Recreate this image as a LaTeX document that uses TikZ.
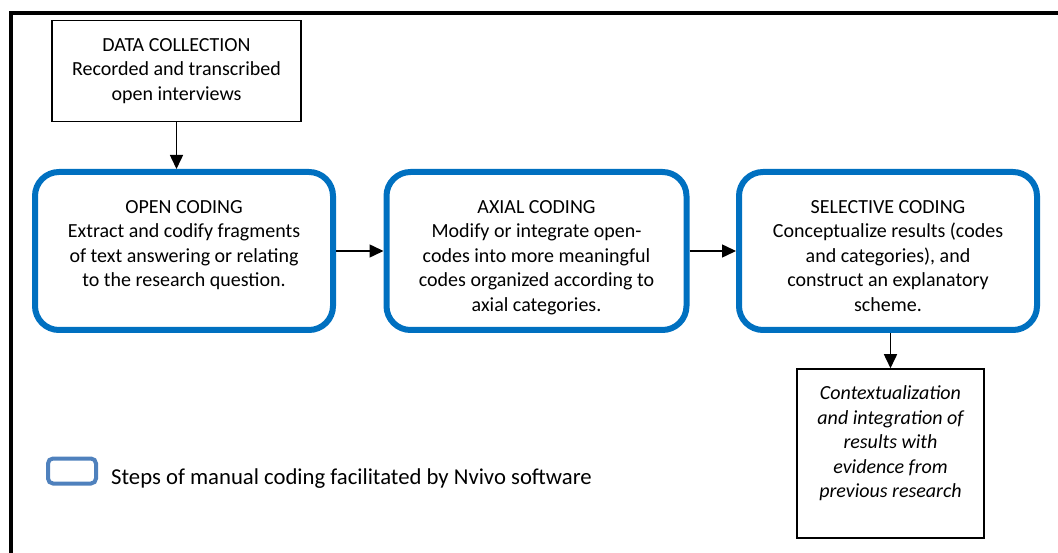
\documentclass[tikz,border=0pt]{standalone}
\usepackage{fontspec}
\setmainfont{Carlito}
\usepackage{tikz}
\usetikzlibrary{arrows.meta}
\definecolor{nvblue}{RGB}{0,112,192}
\definecolor{legendblue}{RGB}{79,129,189}

\tikzset{
  codingbox/.style={draw=nvblue, line width=6pt, rounded corners=24pt, inner sep=0pt},
  plainbox/.style={draw, line width=1.5pt, inner sep=0pt},
  flow/.style={-{Triangle[length=14pt,width=13pt]}, line width=1.5pt}
}

\begin{document}
\begin{tikzpicture}[x=1pt, y=-1pt, font=\fontsize{20}{24.5}\selectfont]
\useasboundingbox (0,0) rectangle (1058,553);

% outer frame
\draw[line width=3.5pt] (11,553) -- (11,13) -- (1058,13);

\draw (176.5, 71) node[plainbox, minimum width=249pt, minimum height=101pt,
  align=center] (data) {DATA COLLECTION\\Recorded and transcribed\\open interviews};

\draw (184, 251) node[codingbox] (open) {
\begin{minipage}[t][158pt]{298pt}
\vspace*{28.5pt}\centering
OPEN CODING\\
Extract and codify fragments\\
of text answering or relating\\
to the research question.
\end{minipage}
};
\draw (536.5, 251) node[codingbox] (axial) {
\begin{minipage}[t][158pt]{300pt}
\vspace*{28.5pt}\centering
AXIAL CODING\\
Modify or integrate open-\\
codes into more meaningful\\
codes organized according to\\
axial categories.
\end{minipage}
};
\draw (888, 251) node[codingbox] (select) {
\begin{minipage}[t][158pt]{298pt}
\vspace*{28.5pt}\centering
SELECTIVE CODING\\
Conceptualize results (codes\\
and categories), and\\
construct an explanatory\\
scheme.
\end{minipage}
};

\draw (890.5, 453.5) node[plainbox] (context) {
\begin{minipage}[t][169pt]{187pt}
\vspace*{17pt}\centering\itshape
Contextualization\\
and integration of\\
results with\\
evidence from\\
previous research
\end{minipage}
};

% connectors
\draw[flow] (data.south) -- (data.south |- open.north);
\draw[flow] (open.east) -- (axial.west);
\draw[flow] (axial.east) -- (select.west);
\draw[flow] (select.south -| context.north) -- (context.north);

% legend
\draw (72, 471) node[draw=legendblue, line width=4pt, rounded corners=5pt,
  minimum width=48pt, minimum height=25pt, inner sep=0pt] (key) {};
\draw (111, 479) node[anchor=west, inner sep=0pt, font=\fontsize{22.7}{27}\selectfont] (keytext)
  {Steps of manual coding facilitated by Nvivo software};
\end{tikzpicture}
\end{document}
